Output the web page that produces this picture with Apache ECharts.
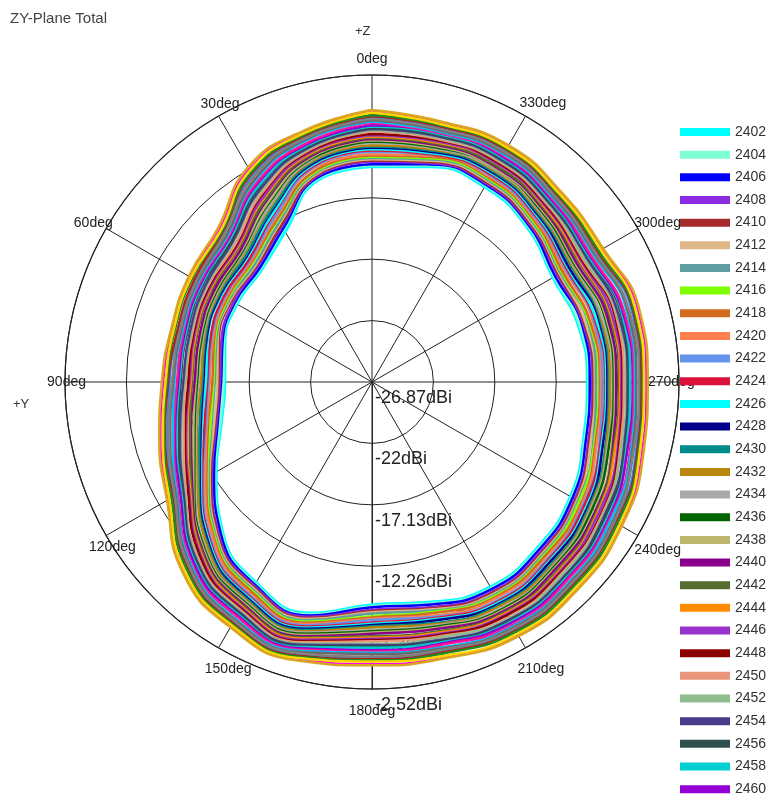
<!DOCTYPE html>
<html>
<head>
<meta charset="utf-8">
<title>ZY-Plane Total</title>
<script src="https://cdn.jsdelivr.net/npm/echarts@6/dist/echarts.min.js"></script>
<style>
  html, body { margin: 0; padding: 0; background: #fff; }
  #zy-plane-chart { width: 774px; height: 801px; }
</style>
</head>
<body>
<div id="zy-plane-chart"></div>
<script>
// cut angles, deg (0deg = +Z, 90deg = +Y)
const angles = [0, 15, 30, 45, 60, 75, 90, 105, 120, 135, 150, 165, 180, 195, 210, 225, 240, 255, 270, 285, 300, 315, 330, 345]

// ring labels of the radial axis, dBi
const ringLabels = [-26.87, -22, -17.13, -12.26, -7.39, -2.52]
const ringStep = 4.87

const freqs = ['2402', '2404', '2406', '2408', '2410', '2412', '2414', '2416', '2418', '2420',
  '2422', '2424', '2426', '2428', '2430', '2432', '2434', '2436', '2438', '2440',
  '2442', '2444', '2446', '2448', '2450', '2452', '2454', '2456', '2458', '2460',
  '2462', '2464', '2466', '2468', '2470', '2472', '2474', '2476', '2478', '2480']

const colors = ['#00FFFF', '#7FFFD4', '#0000FF', '#8A2BE2', '#A52A2A', '#DEB887', '#5F9EA0', '#7FFF00', '#D2691E', '#FF7F50',
  '#6495ED', '#DC143C', '#00FFFF', '#00008B', '#008B8B', '#B8860B', '#A9A9A9', '#006400', '#BDB76B', '#8B008B',
  '#556B2F', '#FF8C00', '#9932CC', '#8B0000', '#E9967A', '#8FBC8F', '#483D8B', '#2F4F4F', '#00CED1', '#9400D3',
  '#FF1493', '#00BFFF', '#696969', '#1E90FF', '#B22222', '#228B22', '#FF00FF', '#FFD700', '#DAA520', '#808080']

// total gain per angle, dBi
const g2402 = [-9.8, -10.3, -13.1, -14.4, -14.5, -14.8, -15.2, -14.5, -12.6, -10.1, -8.5, -7.9, -9.2, -8.8, -8.1, -8.3, -8.7, -9.5, -9.8, -9.9, -10.3, -9.5, -9.0, -9.2]
const g2404 = [-9.7, -10.2, -12.9, -14.3, -14.4, -14.7, -15.1, -14.4, -12.5, -10.0, -8.4, -7.8, -9.1, -8.7, -8.0, -8.2, -8.6, -9.4, -9.7, -9.8, -10.2, -9.4, -8.9, -9.1]
const g2406 = [-9.6, -10.1, -12.8, -14.2, -14.3, -14.6, -14.9, -14.2, -12.4, -9.9, -8.3, -7.7, -9.0, -8.6, -7.9, -8.1, -8.5, -9.3, -9.6, -9.6, -10.1, -9.3, -8.8, -9.0]
const g2408 = [-9.4, -10.0, -12.6, -14.0, -14.2, -14.5, -14.8, -14.1, -12.2, -9.7, -8.2, -7.6, -8.8, -8.4, -7.7, -7.9, -8.3, -9.1, -9.4, -9.5, -9.9, -9.2, -8.7, -8.9]
const g2410 = [-9.3, -9.9, -12.5, -13.9, -14.0, -14.3, -14.7, -14.0, -12.1, -9.6, -8.1, -7.5, -8.7, -8.3, -7.6, -7.8, -8.2, -9.0, -9.3, -9.4, -9.8, -9.1, -8.6, -8.8]
const g2412 = [-9.2, -9.8, -12.3, -13.8, -13.9, -14.2, -14.6, -13.9, -12.0, -9.5, -8.0, -7.4, -8.6, -8.2, -7.5, -7.7, -8.1, -8.9, -9.2, -9.3, -9.7, -9.0, -8.5, -8.7]
const g2414 = [-9.1, -9.7, -12.2, -13.7, -13.8, -14.1, -14.4, -13.7, -11.9, -9.4, -7.9, -7.3, -8.5, -8.1, -7.4, -7.6, -8.0, -8.7, -9.1, -9.1, -9.6, -8.9, -8.4, -8.6]
const g2416 = [-9.0, -9.6, -12.0, -13.5, -13.7, -14.0, -14.3, -13.6, -11.8, -9.3, -7.8, -7.2, -8.3, -8.0, -7.3, -7.5, -7.9, -8.6, -8.9, -9.0, -9.5, -8.8, -8.3, -8.5]
const g2418 = [-8.9, -9.5, -11.9, -13.4, -13.6, -13.9, -14.2, -13.4, -11.7, -9.2, -7.7, -7.1, -8.2, -7.9, -7.2, -7.4, -7.7, -8.5, -8.8, -8.9, -9.4, -8.7, -8.2, -8.4]
const g2420 = [-8.8, -9.3, -11.7, -13.3, -13.5, -13.8, -14.0, -13.3, -11.6, -9.1, -7.5, -7.0, -8.1, -7.7, -7.1, -7.2, -7.6, -8.4, -8.7, -8.7, -9.2, -8.6, -8.1, -8.3]
const g2422 = [-8.6, -9.2, -11.6, -13.2, -13.4, -13.7, -13.9, -13.2, -11.4, -8.9, -7.4, -6.9, -8.0, -7.6, -6.9, -7.1, -7.5, -8.2, -8.6, -8.6, -9.1, -8.5, -8.0, -8.2]
const g2424 = [-8.5, -9.1, -11.4, -13.1, -13.3, -13.6, -13.8, -13.1, -11.3, -8.8, -7.3, -6.8, -7.8, -7.5, -6.8, -7.0, -7.4, -8.1, -8.4, -8.5, -9.0, -8.4, -7.9, -8.2]
const g2426 = [-8.4, -9.0, -11.3, -12.9, -13.1, -13.4, -13.7, -12.9, -11.2, -8.7, -7.2, -6.7, -7.7, -7.4, -6.7, -6.9, -7.2, -8.0, -8.3, -8.4, -8.9, -8.3, -7.8, -8.1]
const g2428 = [-8.3, -8.9, -11.1, -12.8, -13.0, -13.3, -13.5, -12.8, -11.1, -8.6, -7.1, -6.6, -7.6, -7.3, -6.6, -6.8, -7.1, -7.9, -8.2, -8.2, -8.8, -8.2, -7.7, -8.0]
const g2430 = [-8.2, -8.8, -11.0, -12.7, -12.9, -13.2, -13.4, -12.7, -11.0, -8.5, -7.0, -6.5, -7.5, -7.1, -6.5, -6.6, -7.0, -7.7, -8.1, -8.1, -8.6, -8.1, -7.6, -7.9]
const g2432 = [-8.1, -8.7, -10.8, -12.5, -12.8, -13.1, -13.3, -12.5, -10.9, -8.4, -6.9, -6.4, -7.4, -7.0, -6.4, -6.5, -6.9, -7.6, -8.0, -8.0, -8.5, -8.0, -7.5, -7.8]
const g2434 = [-7.9, -8.6, -10.7, -12.4, -12.7, -13.0, -13.1, -12.4, -10.7, -8.2, -6.8, -6.3, -7.2, -6.9, -6.2, -6.4, -6.8, -7.5, -7.8, -7.9, -8.4, -7.9, -7.4, -7.7]
const g2436 = [-7.8, -8.5, -10.5, -12.3, -12.6, -12.9, -13.0, -12.3, -10.6, -8.1, -6.7, -6.2, -7.1, -6.8, -6.1, -6.3, -6.7, -7.4, -7.7, -7.7, -8.3, -7.8, -7.3, -7.6]
const g2438 = [-7.7, -8.4, -10.4, -12.2, -12.5, -12.8, -12.9, -12.2, -10.5, -8.0, -6.6, -6.1, -7.0, -6.7, -6.0, -6.2, -6.5, -7.2, -7.6, -7.6, -8.2, -7.7, -7.3, -7.5]
const g2440 = [-7.6, -8.3, -10.2, -12.1, -12.4, -12.7, -12.8, -12.0, -10.4, -7.9, -6.5, -6.0, -6.9, -6.6, -5.9, -6.1, -6.4, -7.1, -7.5, -7.5, -8.1, -7.6, -7.2, -7.4]
const g2442 = [-7.5, -8.2, -10.1, -11.9, -12.2, -12.5, -12.6, -11.9, -10.3, -7.8, -6.4, -5.9, -6.7, -6.4, -5.8, -5.9, -6.3, -7.0, -7.3, -7.3, -7.9, -7.5, -7.1, -7.3]
const g2444 = [-7.4, -8.1, -9.9, -11.8, -12.1, -12.4, -12.5, -11.7, -10.2, -7.7, -6.3, -5.8, -6.6, -6.3, -5.7, -5.8, -6.2, -6.9, -7.2, -7.2, -7.8, -7.4, -6.9, -7.2]
const g2446 = [-7.3, -8.0, -9.8, -11.7, -12.0, -12.3, -12.4, -11.6, -10.1, -7.6, -6.2, -5.7, -6.5, -6.2, -5.6, -5.7, -6.1, -6.7, -7.1, -7.1, -7.7, -7.3, -6.9, -7.1]
const g2448 = [-7.2, -7.9, -9.6, -11.6, -11.9, -12.2, -12.3, -11.5, -10.0, -7.5, -6.1, -5.6, -6.4, -6.1, -5.5, -5.6, -5.9, -6.6, -7.0, -6.9, -7.6, -7.2, -6.8, -7.0]
const g2450 = [-7.0, -7.8, -9.5, -11.5, -11.8, -12.1, -12.1, -11.4, -9.8, -7.3, -6.0, -5.5, -6.3, -6.0, -5.3, -5.5, -5.8, -6.5, -6.9, -6.8, -7.5, -7.1, -6.7, -6.9]
const g2452 = [-6.9, -7.7, -9.3, -11.3, -11.7, -12.0, -12.0, -11.2, -9.7, -7.2, -5.9, -5.4, -6.1, -5.9, -5.2, -5.4, -5.7, -6.4, -6.7, -6.7, -7.4, -7.0, -6.6, -6.8]
const g2454 = [-6.8, -7.6, -9.2, -11.2, -11.6, -11.9, -11.9, -11.1, -9.6, -7.1, -5.8, -5.3, -6.0, -5.7, -5.1, -5.2, -5.6, -6.2, -6.6, -6.6, -7.2, -6.9, -6.5, -6.7]
const g2456 = [-6.7, -7.5, -9.0, -11.1, -11.4, -11.7, -11.7, -11.0, -9.5, -7.0, -5.7, -5.2, -5.9, -5.6, -5.0, -5.1, -5.5, -6.1, -6.5, -6.4, -7.1, -6.8, -6.4, -6.6]
const g2458 = [-6.6, -7.4, -8.9, -10.9, -11.3, -11.6, -11.6, -10.8, -9.4, -6.9, -5.6, -5.1, -5.8, -5.5, -4.9, -5.0, -5.3, -6.0, -6.4, -6.3, -7.0, -6.7, -6.3, -6.5]
const g2460 = [-6.5, -7.3, -8.7, -10.8, -11.2, -11.5, -11.5, -10.7, -9.3, -6.8, -5.5, -5.0, -5.6, -5.4, -4.8, -4.9, -5.2, -5.9, -6.2, -6.2, -6.9, -6.6, -6.2, -6.4]
const g2462 = [-6.3, -7.2, -8.6, -10.7, -11.1, -11.4, -11.4, -10.6, -9.1, -6.6, -5.4, -4.9, -5.5, -5.3, -4.6, -4.8, -5.1, -5.7, -6.1, -6.1, -6.8, -6.5, -6.1, -6.4]
const g2464 = [-6.2, -7.0, -8.4, -10.6, -11.0, -11.3, -11.2, -10.5, -9.0, -6.5, -5.2, -4.8, -5.4, -5.1, -4.5, -4.6, -5.0, -5.6, -6.0, -5.9, -6.6, -6.4, -6.0, -6.3]
const g2466 = [-6.1, -6.9, -8.3, -10.5, -10.9, -11.2, -11.1, -10.3, -8.9, -6.4, -5.1, -4.7, -5.3, -5.0, -4.4, -4.5, -4.8, -5.5, -5.9, -5.8, -6.5, -6.3, -5.9, -6.2]
const g2468 = [-5.9, -6.7, -8.0, -10.2, -10.7, -11.0, -10.8, -10.1, -8.7, -6.2, -4.9, -4.5, -5.0, -4.8, -4.2, -4.3, -4.6, -5.2, -5.6, -5.5, -6.3, -6.1, -5.7, -6.0]
const g2470 = [-5.8, -6.6, -7.8, -10.1, -10.6, -10.9, -10.7, -9.9, -8.6, -6.1, -4.8, -4.4, -4.9, -4.7, -4.1, -4.2, -4.5, -5.1, -5.5, -5.4, -6.2, -6.0, -5.6, -5.9]
const g2472 = [-5.7, -6.5, -7.7, -10.0, -10.4, -10.7, -10.6, -9.8, -8.5, -6.0, -4.7, -4.3, -4.8, -4.6, -4.0, -4.1, -4.4, -5.0, -5.4, -5.3, -6.1, -5.9, -5.5, -5.8]
const g2474 = [-5.4, -6.3, -7.4, -9.7, -10.2, -10.5, -10.3, -9.5, -8.2, -5.7, -4.5, -4.1, -4.5, -4.3, -3.7, -3.8, -4.1, -4.7, -5.1, -5.0, -5.8, -5.7, -5.3, -5.6]
const g2476 = [-5.5, -6.4, -7.5, -9.9, -10.3, -10.6, -10.5, -9.7, -8.3, -5.8, -4.6, -4.2, -4.7, -4.4, -3.8, -3.9, -4.2, -4.9, -5.3, -5.2, -5.9, -5.8, -5.4, -5.7]
const g2478 = [-5.3, -6.2, -7.2, -9.6, -10.1, -10.4, -10.2, -9.4, -8.1, -5.6, -4.4, -4.0, -4.4, -4.2, -3.6, -3.7, -4.0, -4.6, -5.0, -4.9, -5.7, -5.6, -5.2, -5.5]
const g2480 = [-6.0, -6.8, -8.1, -10.3, -10.8, -11.1, -11.0, -10.2, -8.8, -6.3, -5.0, -4.6, -5.1, -4.9, -4.3, -4.4, -4.7, -5.4, -5.7, -5.7, -6.4, -6.2, -5.8, -6.1]

const gains = [g2402, g2404, g2406, g2408, g2410, g2412, g2414, g2416, g2418, g2420,
  g2422, g2424, g2426, g2428, g2430, g2432, g2434, g2436, g2438, g2440,
  g2442, g2444, g2446, g2448, g2450, g2452, g2454, g2456, g2458, g2460,
  g2462, g2464, g2466, g2468, g2470, g2472, g2474, g2476, g2478, g2480]

const FONT = '"Liberation Sans", Arial, sans-serif'

// nudges for the angle labels so they sit on the ring like the original plot does
// [top, right, bottom, left], px (labels are anchored 70px inside the ring)
const anglePad = {
  0: [0, 0, 79, 0], 30: [0, 14, 66, 0], 60: [0, 54, 33, 0], 90: [0, 49, 0, 0],
  120: [40, 31, 0, 0], 150: [75, 2, 0, 0], 180: [85, 0, 0, 0], 210: [75, 0, 0, 27],
  240: [43, 0, 0, 57], 270: [0, 0, 0, 39], 300: [0, 0, 33, 57], 330: [0, 0, 67, 29],
}
const angleRich = {}
Object.keys(anglePad).forEach((k) => {
  angleRich['a' + k] = { padding: anglePad[k], fontSize: 14, fontFamily: FONT, color: '#222' }
})

// radius in ring units from the centre, angle turned so that 180deg sits at the bottom
// (the radial axis is drawn along the start angle, and its labels hang below the centre)
function toPolar(values) {
  const pts = angles.map((a, i) => [(values[i] - ringLabels[0]) / ringStep, (a + 180) % 360])
  pts.push(pts[0].slice()) // close the loop
  return pts
}

const chart = echarts.init(document.getElementById('zy-plane-chart'))

const series = freqs.map((f, i) => ({
  name: f,
  type: 'line',
  coordinateSystem: 'polar',
  data: toPolar(gains[i]),
  smooth: true,
  symbol: 'none',
  silent: true,
  color: colors[i],
  lineStyle: { width: i === 0 ? 3 : 2.5, color: colors[i] },
}))

const option = {
  backgroundColor: '#fff',
  animation: false,
  graphic: [
    { type: 'text', left: 10, top: 11, style: { text: 'ZY-Plane Total', fill: '#444', font: '15px ' + FONT } },
    { type: 'text', left: 355, top: 25, style: { text: '+Z', fill: '#333', font: '13px ' + FONT } },
    { type: 'text', left: 13, top: 398, style: { text: '+Y', fill: '#333', font: '13px ' + FONT } },
  ],
  legend: {
    data: freqs,
    orient: 'vertical',
    left: 675,
    top: 120,
    height: 1200,
    icon: 'rect',
    itemWidth: 50,
    itemHeight: 8,
    itemGap: 8.66,
    selectedMode: false,
    textStyle: { fontSize: 14, lineHeight: 14, color: '#333', fontFamily: FONT },
  },
  polar: {
    center: [372, 382],
    radius: 307,
  },
  angleAxis: {
    type: 'value',
    min: 0,
    max: 360,
    interval: 30,
    startAngle: -90,
    clockwise: false,
    axisLine: { show: true, lineStyle: { color: '#222', width: 1.2 } },
    axisTick: { show: false },
    splitLine: { show: true, lineStyle: { color: '#222', width: 1 } },
    axisLabel: {
      margin: -70,
      color: '#222',
      fontSize: 14,
      fontFamily: FONT,
      formatter: (v) => {
        const d = (v + 180) % 360
        return '{a' + d + '|' + d + 'deg}'
      },
      rich: angleRich,
    },
  },
  radiusAxis: {
    type: 'value',
    min: 0,
    max: ringLabels.length - 1,
    interval: 1,
    z: 0,
    axisLine: { show: true, lineStyle: { color: '#222', width: 1 } },
    axisTick: { show: false },
    splitLine: { show: true, lineStyle: { color: '#222', width: 1 } },
    axisLabel: {
      margin: 3,
      color: '#222',
      fontSize: 18,
      fontFamily: FONT,
      verticalAlign: 'top',
      padding: [7, 0, 0, 0],
      formatter: (v) => ringLabels[Math.round(v)] + 'dBi',
    },
  },
  series: series,
}

chart.setOption(option)
</script>
</body>
</html>
